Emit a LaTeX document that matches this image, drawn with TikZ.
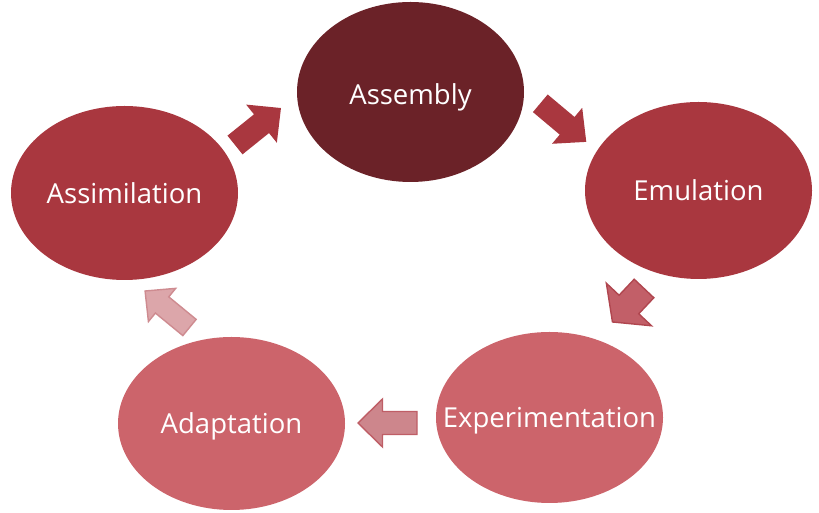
\documentclass[tikz,border=0pt]{standalone}
\usepackage{fontspec}
\setmainfont{Open Sans}
\usetikzlibrary{shapes.geometric}
\definecolor{cDark}{HTML}{6B2228}
\definecolor{cMid}{HTML}{A9373F}
\definecolor{cLight}{HTML}{CC646B}
\definecolor{aThreeFill}{HTML}{C25F68}
\definecolor{aThreeLine}{HTML}{B0464F}
\definecolor{aFourFill}{HTML}{CD868C}
\definecolor{aFourLine}{HTML}{BF5E66}
\definecolor{aFiveFill}{HTML}{DCA6AA}
\definecolor{aFiveLine}{HTML}{CE8B90}
\tikzset{
  stage/.style={ellipse, inner sep=0pt},
  stagetext/.style={text=white, inner sep=0pt, font=\fontsize{27.5}{32}\selectfont},
  pics/blockarrow/.style args={#1/#2/#3/#4}{code={
    \path[pic actions] (0,-#1) -- (#4-#3,-#1) -- (#4-#3,-#2) -- (#4,0) -- (#4-#3,#2) -- (#4-#3,#1) -- (0,#1) -- cycle;
  }}
}
\begin{document}
\begin{tikzpicture}[x=1pt,y=1pt]
\useasboundingbox (0,0) rectangle (819,513);
\node[stage, fill=cDark, minimum width=227, minimum height=180,
  label={[stagetext, yshift=-5]center:Assembly}] (asm) at (410.5,421) {};
\node[stage, fill=cMid, minimum width=227, minimum height=177,
  label={[stagetext]center:Emulation}] (emu) at (698.5,322.5) {};
\node[stage, fill=cLight, minimum width=227, minimum height=171,
  label={[stagetext, yshift=-3]center:Experimentation}] (exp) at (549.5,95.5) {};
\node[stage, fill=cLight, minimum width=227, minimum height=173,
  label={[stagetext, yshift=-3]center:Adaptation}] (ada) at (231.5,89.5) {};
\node[stage, fill=cMid, minimum width=227, minimum height=174,
  label={[stagetext]center:Assimilation}] (asi) at (124.5,320) {};
% block arrows
\coordinate (t1) at (235,368);
\coordinate (t2) at (540.3,409.7);
\coordinate (t3) at (644,224.5);
\coordinate (t4) at (417,90);
\coordinate (t5) at (189.5,185.5);
\pic[fill=cMid, rotate=38.8] at (t1) {blockarrow={12/24.5/25/59}};
\pic[fill=cMid, rotate=-40] at (t2) {blockarrow={11.5/23.5/25/60}};
\pic[fill=aThreeFill, draw=aThreeLine, line width=1.4pt, rotate=226.7] at (t3) {blockarrow={13.5/31/24/46}};
\pic[fill=aFourFill, draw=aFourLine, line width=1.4pt, rotate=180] at (t4) {blockarrow={11.5/24/24.5/59}};
\pic[fill=aFiveFill, draw=aFiveLine, line width=1.4pt, rotate=140.6] at (t5) {blockarrow={10.5/21.5/22/57.5}};
\end{tikzpicture}
\end{document}
